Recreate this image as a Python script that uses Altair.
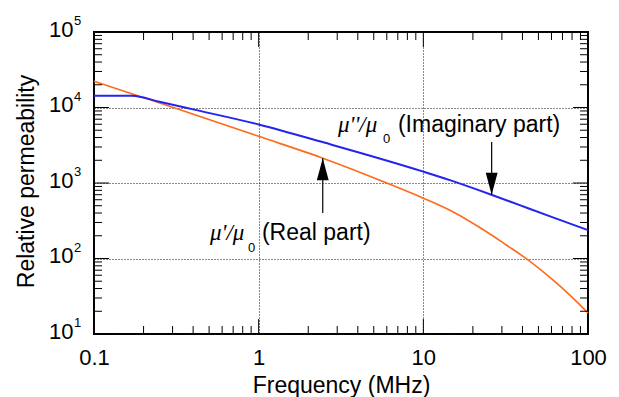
import altair as alt
import pandas as pd

# ---------------- data ----------------
real_freq = [0.1, 0.3, 1, 2.5, 6, 10, 15.1, 24.2, 31.9, 43.2, 61.2, 77.3, 100]
real_mu = [22300, 10100, 4150, 2100, 1000, 630, 417, 226, 151, 96, 52, 33, 19]

imag_freq = [0.1, 0.17, 0.25, 0.4, 1, 2.5, 10, 14.8, 25.9, 38.5, 61.2, 100]
imag_mu = [14300, 14300, 11900, 9440, 5960, 3430, 1416, 1076, 700, 509, 351, 238]

x_major = [0.1, 1, 10, 100]
x_inner_major = [1, 10]
x_minor = [m * d for d in (0.1, 1, 10) for m in range(2, 10)]
y_major = [10, 100, 1000, 10000, 100000]
y_exponents = ["1", "2", "3", "4", "5"]
y_inner_major = [100, 1000, 10000]
y_minor = [m * d for d in (10, 100, 1000, 10000) for m in range(2, 10)]

arrow_freq = [2.45, 26.0]
arrow_tip = [2120, 700]
arrow_tail = [401, 3490]
arrow_dir = ["up", "down"]

label_sym = ["μ'/μ", "μ''/μ"]
label_sym_freq = [0.506, 3.03]
label_sym_mu = [176, 4730]
label_sub = ["0", "0"]
label_sub_freq = [0.861, 5.68]
label_sub_mu = [122, 3390]
label_text = ["(Real part)", "(Imaginary part)"]
label_text_freq = [1.047, 7.01]
label_text_mu = [176, 4730]

# ---------------- chart ----------------
W, H = 494, 302
FONT = "Liberation Sans"
xs = alt.Scale(type="log", domain=[0.1, 100], nice=False)
ys = alt.Scale(type="log", domain=[10, 100000], nice=False)

x_axis = alt.Axis(
    values=x_major, format="~g", title="Frequency (MHz)",
    grid=True, gridDash=[1, 2], gridColor="#111", gridWidth=1, gridOpacity=1,
    ticks=False, tickSize=0, domain=False,
    labelFont=FONT, labelFontSize=22, labelColor="black", labelPadding=13,
    labelFlush=False, labelOverlap=False,
    titleFont=FONT, titleFontSize=23, titleFontWeight="normal", titleColor="black",
    titleY=58, titleBaseline="alphabetic",
)
y_axis = alt.Axis(
    values=y_major, labelExpr="'10'", title="Relative permeability",
    grid=True, gridDash=[1, 2], gridColor="#111", gridWidth=1, gridOpacity=1,
    ticks=False, tickSize=0, domain=False,
    labelFont=FONT, labelFontSize=22, labelColor="black", labelPadding=21,
    labelAlign="right", labelBaseline="alphabetic", labelOffset=4,
    labelFlush=False, labelOverlap=False,
    titleFont=FONT, titleFontSize=23, titleFontWeight="normal", titleColor="black",
    titleAngle=270, titleX=-61, titleY=149, titleBaseline="alphabetic", titleAlign="center",
)

real_df = pd.DataFrame({"f": real_freq, "mu": real_mu})
imag_df = pd.DataFrame({"f": imag_freq, "mu": imag_mu})


def X(field="f"):
    return alt.X(f"{field}:Q", scale=xs, axis=x_axis)


def Y(field="mu"):
    return alt.Y(f"{field}:Q", scale=ys, axis=y_axis)


real_line = alt.Chart(real_df).mark_line(
    color="#ff6a1a", strokeWidth=1.6, interpolate="monotone"
).encode(x=X(), y=Y())

imag_line = alt.Chart(imag_df).mark_line(
    color="#2424ee", strokeWidth=2, interpolate="monotone"
).encode(x=X(), y=Y())

# inward ticks on all four sides
xminor_df = pd.DataFrame({"f": x_minor})
xmajor_df = pd.DataFrame({"f": x_inner_major})
yminor_df = pd.DataFrame({"mu": y_minor})
ymajor_df = pd.DataFrame({"mu": y_inner_major})
MINOR, MAJOR = 8, 15


def xticks(df, length):
    bot = alt.Chart(df).mark_rule(color="black", strokeWidth=1).encode(
        x=X(), y=alt.value(H), y2=alt.value(H - length))
    top = alt.Chart(df).mark_rule(color="black", strokeWidth=1).encode(
        x=X(), y=alt.value(0), y2=alt.value(length))
    return [bot, top]


def yticks(df, length):
    left = alt.Chart(df).mark_rule(color="black", strokeWidth=1).encode(
        y=Y(), x=alt.value(0), x2=alt.value(length))
    right = alt.Chart(df).mark_rule(color="black", strokeWidth=1).encode(
        y=Y(), x=alt.value(W), x2=alt.value(W - length))
    return [left, right]


tick_layers = xticks(xminor_df, MINOR) + xticks(xmajor_df, MAJOR) + \
    yticks(yminor_df, MINOR) + yticks(ymajor_df, MAJOR)

# superscript exponents of the y labels
exp_df = pd.DataFrame({"mu": y_major, "e": y_exponents})
exps = alt.Chart(exp_df).mark_text(
    align="left", baseline="alphabetic", dy=-7, fontSize=13, font=FONT, color="black"
).encode(y=Y(), x=alt.value(-20), text="e:N")

# arrows
arrow_df = pd.DataFrame({"f": arrow_freq, "tip": arrow_tip, "tail": arrow_tail, "dir": arrow_dir})
arrow_lines = alt.Chart(arrow_df).mark_rule(color="black", strokeWidth=1.2).encode(
    x=X(), y=Y("tip"), y2="tail:Q")
arrow_heads = alt.Chart(arrow_df).mark_point(
    filled=True, color="black", size=1936, opacity=1, strokeWidth=0
).encode(
    x=X(), y=Y("tip"),
    shape=alt.Shape("dir:N", scale=alt.Scale(
        domain=["up", "down"],
        range=["M0,0L0.27,1L-0.27,1Z", "M0,0L0.27,-1L-0.27,-1Z"]), legend=None),
)

# annotation labels
sym_df = pd.DataFrame({"f": label_sym_freq, "mu": label_sym_mu, "t": label_sym})
sub_df = pd.DataFrame({"f": label_sub_freq, "mu": label_sub_mu, "t": label_sub})
txt_df = pd.DataFrame({"f": label_text_freq, "mu": label_text_mu, "t": label_text})

sym_text = alt.Chart(sym_df).mark_text(
    align="left", baseline="alphabetic", font="Liberation Serif", fontStyle="italic",
    fontSize=23, color="black"
).encode(x=X(), y=Y(), text="t:N")
sub_text = alt.Chart(sub_df).mark_text(
    align="left", baseline="alphabetic", font=FONT, fontSize=13, color="black"
).encode(x=X(), y=Y(), text="t:N")
main_text = alt.Chart(txt_df).mark_text(
    align="left", baseline="alphabetic", font=FONT, fontSize=23, color="black"
).encode(x=X(), y=Y(), text="t:N")

chart = alt.layer(
    real_line, imag_line, *tick_layers, exps, arrow_lines, arrow_heads,
    sym_text, sub_text, main_text,
).properties(
    width=W, height=H,
    padding={"left": 94, "top": 32, "right": 31, "bottom": 63},
    autosize=alt.AutoSizeParams(type="none"),
    background="white",
).configure_view(stroke="black", strokeWidth=2)

chart.save("out.html", embed_options={"renderer": "svg", "actions": False})
